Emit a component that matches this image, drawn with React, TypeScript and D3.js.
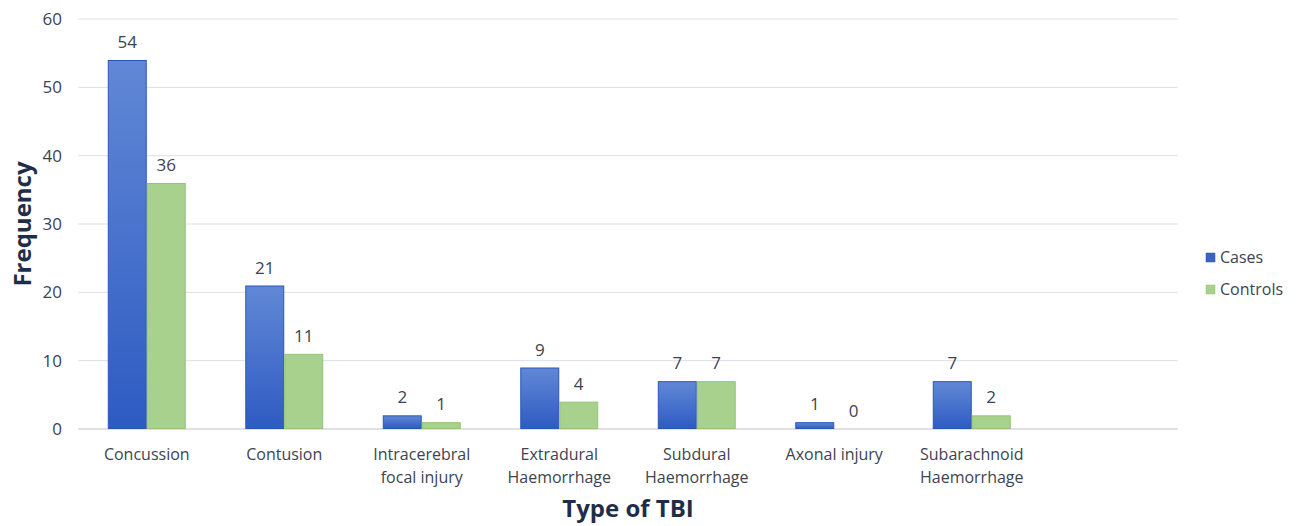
import React from "react";
import * as d3 from "d3";

// Frequency of each type of traumatic brain injury, cases vs. controls
const categories: string[][] = [
  ["Concussion"],
  ["Contusion"],
  ["Intracerebral", "focal injury"],
  ["Extradural", "Haemorrhage"],
  ["Subdural", "Haemorrhage"],
  ["Axonal injury"],
  ["Subarachnoid", "Haemorrhage"],
];
const casesValues = [54, 21, 2, 9, 7, 1, 7];
const controlsValues = [36, 11, 1, 4, 7, 0, 2];
const seriesNames = ["Cases", "Controls"];
const yTicks = [0, 10, 20, 30, 40, 50, 60];

const W = 1296;
const H = 526;
const M = { left: 78, right: 118, top: 19, bottom: 97 };
const FONT = "'Open Sans', 'Noto Sans', sans-serif";
const TEXT = "#3d4352";
const TITLE = "#1f2e48";

export default function App() {
  const keys = categories.map((c) => c.join(" "));
  // an empty slot at the end of the category axis
  const domain = [...keys, ""];
  const x = d3
    .scaleBand<string>()
    .domain(domain)
    .range([M.left, W - M.right])
    .paddingInner(0.433)
    .paddingOuter(0.2165);
  const xs = d3.scaleBand<string>().domain(seriesNames).range([0, x.bandwidth()]);
  const y = d3.scaleLinear().domain([0, 60]).range([H - M.bottom, M.top]);

  const series = [
    { name: seriesNames[0], values: casesValues, fill: "url(#casesGrad)", stroke: "#2b56b9" },
    { name: seriesNames[1], values: controlsValues, fill: "#a9d18e", stroke: "#93c472" },
  ];

  return (
    <svg
      width={W}
      height={H}
      style={{ position: "absolute", left: 0, top: 0, background: "#fff" }}
      fontFamily={FONT}
    >
      <defs>
        <linearGradient id="casesGrad" x1="0" y1="0" x2="0" y2="1">
          <stop offset="0" stopColor="#6188d6" />
          <stop offset="1" stopColor="#2e5bc2" />
        </linearGradient>
      </defs>

      {/* gridlines and y tick labels */}
      {yTicks.map((t) => (
        <g key={t}>
          <line
            x1={M.left}
            x2={W - M.right}
            y1={y(t)}
            y2={y(t)}
            stroke={t === 0 ? "#d4d7de" : "#dcdfe4"}
            strokeWidth={t === 0 ? 1.5 : 1}
          />
          <text x={62} y={y(t)} dy="0.35em" textAnchor="end" fontSize={17} fill={TEXT}>
            {t}
          </text>
        </g>
      ))}

      {/* bars with value labels */}
      {series.map((s) =>
        s.values.map((v, i) => {
          const bx = (x(keys[i]) as number) + (xs(s.name) as number);
          const bw = xs.bandwidth();
          const top = y(v);
          const h = y(0) - top;
          return (
            <g key={s.name + i}>
              {h > 0 && (
                <rect
                  x={bx + 0.5}
                  y={top + 0.5}
                  width={bw - 1}
                  height={h - 1}
                  fill={s.fill}
                  stroke={s.stroke}
                  strokeWidth={1}
                />
              )}
              <text
                x={bx + bw / 2}
                y={top - 12}
                textAnchor="middle"
                fontSize={17}
                fill={TEXT}
              >
                {v}
              </text>
            </g>
          );
        })
      )}

      {/* category labels */}
      {categories.map((lines, i) => {
        const cx = (x(keys[i]) as number) + x.bandwidth() / 2;
        return (
          <text key={keys[i]} textAnchor="middle" fontSize={16} fill={TEXT}>
            {lines.map((l, j) => (
              <tspan key={j} x={cx} y={460 + j * 23}>
                {l}
              </tspan>
            ))}
          </text>
        );
      })}

      {/* axis titles */}
      <text
        transform={`translate(31, ${(M.top + H - M.bottom) / 2}) rotate(-90)`}
        textAnchor="middle"
        fontSize={24}
        fontWeight="bold"
        fill={TITLE}
      >
        Frequency
      </text>
      <text
        x={(M.left + W - M.right) / 2}
        y={517}
        textAnchor="middle"
        fontSize={24}
        fontWeight="bold"
        fill={TITLE}
      >
        Type of TBI
      </text>

      {/* legend */}
      {series.map((s, i) => (
        <g key={s.name} transform={`translate(1206, ${253 + i * 32})`}>
          <rect x={0} y={0} width={9} height={9} fill={i === 0 ? "#3a63c6" : "#a9d18e"} stroke={s.stroke} strokeWidth={0.5} />
          <text x={14} y={4.5} dy="0.35em" fontSize={16} fill={TEXT}>
            {s.name}
          </text>
        </g>
      ))}
    </svg>
  );
}
